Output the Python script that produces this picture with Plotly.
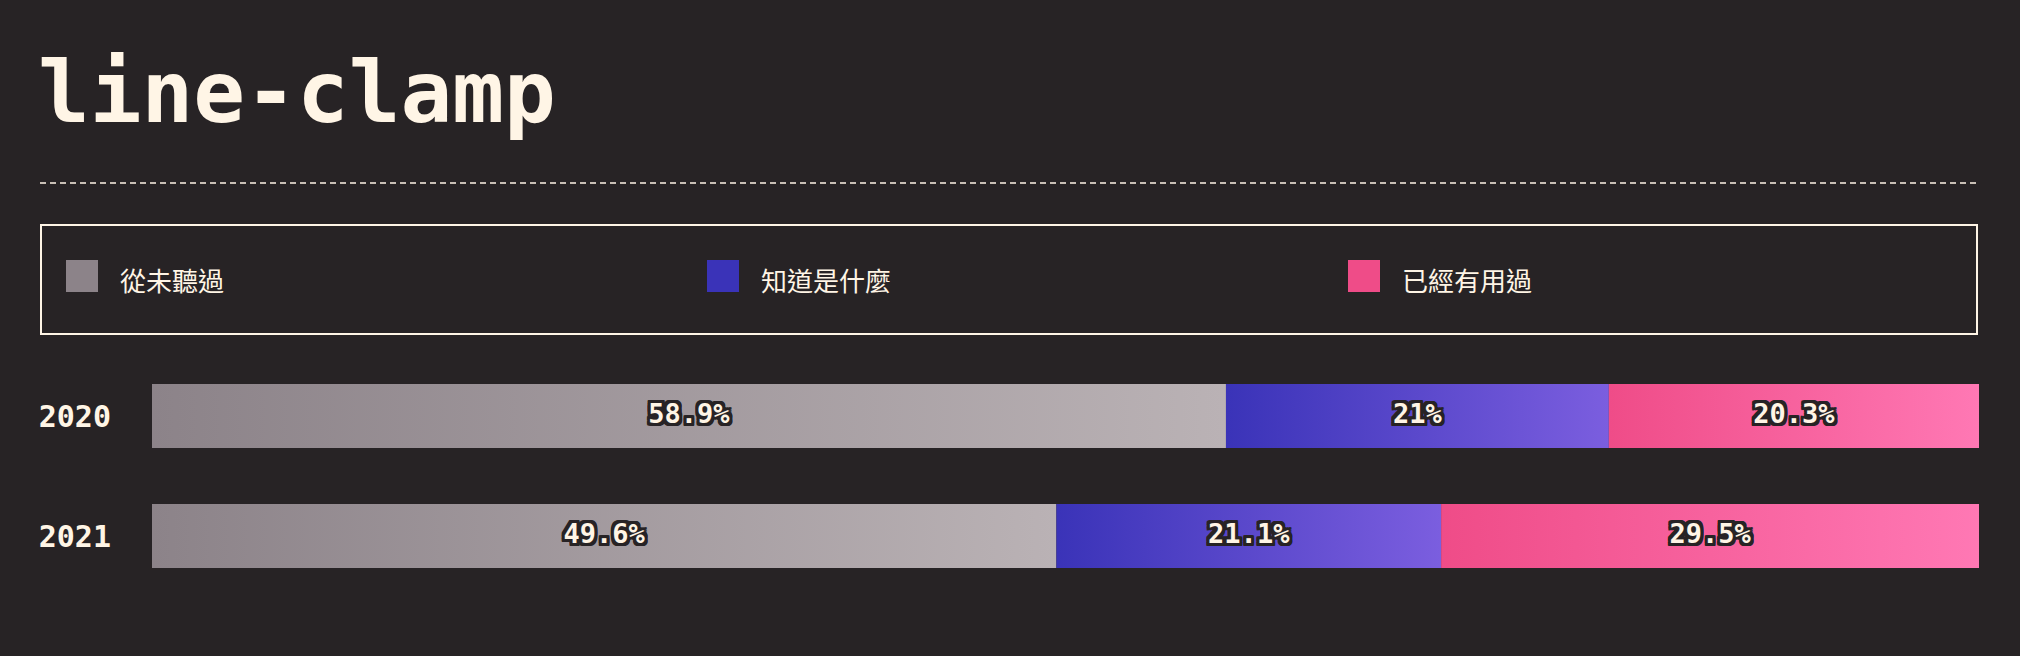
import plotly.graph_objects as go

W, H = 2020, 656
BG = '#272325'
CREAM = '#fff5e6'

title_text = 'line-clamp'
years = ['2020', '2021']
categories = ['從未聽過', '知道是什麼', '已經有用過']
never_heard = [58.9, 49.6]
know_what = [21.0, 21.1]
have_used = [20.3, 29.5]
series = [never_heard, know_what, have_used]
start_colors = ['#8c8389', '#3a33b8', '#ef4c88']
end_colors = ['#bab2b5', '#7b5edf', '#ff78b4']


def px_x(p):
    return p / W


def px_y(p):
    return 1 - p / H


fig = go.Figure()

half = 32 / 120
outline = ', '.join(f'{dx}px {dy}px 0 {BG}' for dx in (-3, -2, 0, 2, 3) for dy in (-3, -2, 0, 2, 3) if (dx, dy) != (0, 0))

cum = [0.0 for _ in years]
for si, (name, vals) in enumerate(zip(categories, series)):
    for yi, v in enumerate(vals):
        l = cum[yi]
        r = l + v
        fig.add_trace(go.Scatter(
            x=[l, r, r, l, l],
            y=[yi - half, yi - half, yi + half, yi + half, yi - half],
            mode='lines', fill='toself', line=dict(width=0),
            fillgradient=dict(type='horizontal',
                              colorscale=[[0, start_colors[si]], [1, end_colors[si]]]),
            hoverinfo='skip', showlegend=False, name=name))
    lbl_x = [cum[i] + vals[i] / 2 for i in range(len(years))]
    fig.add_trace(go.Scatter(
        x=lbl_x, y=list(range(len(years))), mode='text',
        text=[f'{v:g}%' for v in vals],
        textposition='middle center',
        textfont=dict(family='DejaVu Sans Mono', size=27, color=CREAM, weight=700, shadow=outline),
        hoverinfo='skip', showlegend=False))
    cum = [cum[i] + vals[i] for i in range(len(years))]

total = max(cum)

shapes = []
annotations = []

# title
annotations.append(dict(text=title_text, xref='paper', yref='paper', x=px_x(36), y=px_y(92),
                        xanchor='left', yanchor='middle', showarrow=False,
                        font=dict(family='DejaVu Sans Mono', size=86, color=CREAM, weight=700)))
# dashed rule
shapes.append(dict(type='line', xref='paper', yref='paper', x0=px_x(40), x1=px_x(1977),
                   y0=px_y(183), y1=px_y(183), line=dict(color=CREAM, width=1.5, dash='6px,4px')))
# legend box
shapes.append(dict(type='rect', xref='paper', yref='paper', x0=px_x(41), x1=px_x(1977),
                   y0=px_y(225), y1=px_y(334), line=dict(color=CREAM, width=2)))
for i, name in enumerate(categories):
    x0 = 66 + 641 * i
    shapes.append(dict(type='rect', xref='paper', yref='paper', x0=px_x(x0), x1=px_x(x0 + 32),
                       y0=px_y(260), y1=px_y(292), line=dict(width=0), fillcolor=start_colors[i]))
    annotations.append(dict(text=name, xref='paper', yref='paper', x=px_x(x0 + 52), y=px_y(279),
                            xanchor='left', yanchor='middle', showarrow=False,
                            font=dict(family='Noto Sans CJK TC', size=26, color=CREAM)))

fig.update_layout(
    width=W, height=H,
    margin=dict(l=0, r=0, t=0, b=0),
    paper_bgcolor=BG, plot_bgcolor=BG,
    showlegend=False,
    shapes=shapes, annotations=annotations,
    xaxis=dict(domain=[px_x(152), px_x(1979)], range=[0, total], visible=False, fixedrange=True),
    yaxis=dict(range=[(H - 416) / 120, -416 / 120], tickvals=list(range(len(years))), ticktext=years,
               showgrid=False, zeroline=False, showline=False, ticks='',
               ticklabelstandoff=40,
               tickfont=dict(family='DejaVu Sans Mono', size=30, color=CREAM, weight=700),
               fixedrange=True),
)

fig.write_html('out.html', config={'displayModeBar': False},
               post_script="document.body.style.margin='0px';document.body.style.overflow='hidden';"
                           "document.body.style.background='" + BG + "';")
